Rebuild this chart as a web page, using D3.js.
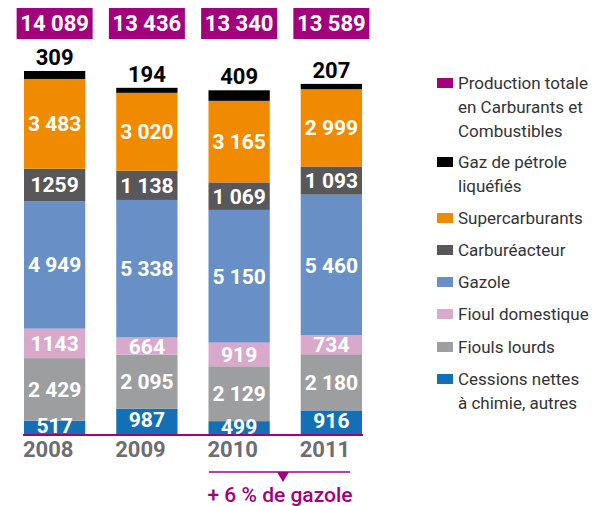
<!DOCTYPE html>
<html><head><meta charset="utf-8">
<script src="https://cdn.jsdelivr.net/npm/d3@7"></script>
<style>body{margin:0;background:#fff}svg{display:block;font-family:Roboto,"DejaVu Sans",sans-serif}</style>
</head><body><svg id="c" width="604" height="506"></svg>
<script>
const years = ["2008","2009","2010","2011"];
const totals = [14089, 13436, 13340, 13589];
const totalLabels = ["14 089","13 436","13 340","13 589"];
const cessions = [517, 987, 499, 916];
const cessionsLabels = ["517","987","499","916"];
const fioulsLourds = [2429, 2095, 2129, 2180];
const fioulsLourdsLabels = ["2 429","2 095","2 129","2 180"];
const fioulDomestique = [1143, 664, 919, 734];
const fioulDomestiqueLabels = ["1143","664","919","734"];
const gazole = [4949, 5338, 5150, 5460];
const gazoleLabels = ["4 949","5 338","5 150","5 460"];
const carbureacteur = [1259, 1138, 1069, 1093];
const carbureacteurLabels = ["1259","1 138","1 069","1 093"];
const supercarburants = [3483, 3020, 3165, 2999];
const supercarburantsLabels = ["3 483","3 020","3 165","2 999"];
const gpl = [309, 194, 409, 207];
const gplLabels = ["309","194","409","207"];
const legendNames = [["Production totale","en Carburants et","Combustibles"],["Gaz de pétrole","liquéfiés"],["Supercarburants"],["Carburéacteur"],["Gazole"],["Fioul domestique"],["Fiouls lourds"],["Cessions nettes","à chimie, autres"]];
const annotation = "+ 6 % de gazole";

const series = [
  {key:"cessions", vals:cessions, labels:cessionsLabels, color:"#1470b4"},
  {key:"fl", vals:fioulsLourds, labels:fioulsLourdsLabels, color:"#9d9ea0"},
  {key:"fd", vals:fioulDomestique, labels:fioulDomestiqueLabels, color:"#d9a9cc"},
  {key:"gaz", vals:gazole, labels:gazoleLabels, color:"#6890c6"},
  {key:"carb", vals:carbureacteur, labels:carbureacteurLabels, color:"#58585a"},
  {key:"sup", vals:supercarburants, labels:supercarburantsLabels, color:"#f08a00"},
  {key:"gpl", vals:gpl, labels:gplLabels, color:"#000000"}
];
const magenta = "#a3007e";
const legendColors = [magenta,"#000000","#f08a00","#58585a","#6890c6","#d9a9cc","#9d9ea0","#1470b4"];

const svg = d3.select("#c");
const baseY = 434;
const xb = d3.scaleBand().domain(years).range([24, 362]).paddingInner(31/92.3).paddingOuter(0);
const y = d3.scaleLinear().domain([0, d3.max(totals)]).range([baseY, 71]);

const table = years.map((yr, i) => {
  let acc = 0;
  return series.map(s => { const o = {yr, i, s, v:s.vals[i], lab:s.labels[i], y0:acc, y1:acc + s.vals[i]}; acc += s.vals[i]; return o; });
}).flat();

const g = svg.append("g");
g.selectAll("rect.seg").data(table).join("rect")
  .attr("x", d => xb(d.yr)).attr("width", xb.bandwidth())
  .attr("y", d => y(d.y1)).attr("height", d => y(d.y0) - y(d.y1))
  .attr("fill", d => d.s.color);

g.selectAll("text.seg").data(table.filter(d => d.s.key !== "gpl")).join("text")
  .attr("x", d => xb(d.yr) + xb.bandwidth()/2)
  .attr("y", d => (y(d.y0) + y(d.y1))/2 - (d.s.key === "cessions" ? 1.5 : 0))
  .attr("dy", "0.36em")
  .attr("text-anchor","middle").attr("fill","#fff")
  .attr("font-size", 21).attr("font-weight","bold")
  .text(d => d.lab);

g.selectAll("text.gpl").data(table.filter(d => d.s.key === "gpl")).join("text")
  .attr("x", d => xb(d.yr) + xb.bandwidth()/2)
  .attr("y", d => y(d.y1) - 6)
  .attr("text-anchor","middle").attr("fill","#000")
  .attr("font-size", 22).attr("font-weight","bold")
  .text(d => d.lab);

// baseline
svg.append("line").attr("x1",23).attr("x2",363).attr("y1",baseY+1).attr("y2",baseY+1)
  .attr("stroke",magenta).attr("stroke-width",2);

// year labels
svg.selectAll("text.yr").data(years).join("text")
  .attr("x", d => xb(d) - 1).attr("y", 457)
  .attr("fill","#6d6e70").attr("font-size",22).attr("font-weight","bold")
  .text(d => d);

// total boxes
const tb = svg.selectAll("g.tot").data(years).join("g")
  .attr("transform", d => `translate(${xb(d) + xb.bandwidth()/2},0)`);
tb.append("rect").attr("x",-38).attr("y",8).attr("width",76).attr("height",31).attr("fill",magenta);
tb.append("text").attr("x",0).attr("y",31).attr("text-anchor","middle").attr("fill","#fff")
  .attr("font-size",22).attr("font-weight","bold").text((d,i) => totalLabels[i]);

// annotation
svg.append("line").attr("x1",209).attr("x2",350).attr("y1",472).attr("y2",472).attr("stroke",magenta).attr("stroke-width",1.5);
svg.append("path").attr("d","M277,472 L289,472 L283,482 Z").attr("fill",magenta);
svg.append("text").attr("x",280).attr("y",502).attr("text-anchor","middle").attr("fill",magenta)
  .attr("font-size",21).attr("font-weight",500).text(annotation);

// legend
const legTops = [83, 162, 218, 250, 282, 314, 347, 379];
const lg = svg.selectAll("g.leg").data(legendNames).join("g")
  .attr("transform", (d,i) => `translate(437,${legTops[i]})`);
lg.append("rect").attr("x",0).attr("y",-5).attr("width",16).attr("height",10).attr("fill",(d,i) => legendColors[i]);
lg.each(function(lines){
  const t = d3.select(this).append("text").attr("x",21).attr("y",0).attr("fill","#333335").attr("font-size",17);
  lines.forEach((ln, j) => t.append("tspan").attr("x",21).attr("y", j*23.7).attr("dy","0.36em").text(ln));
});
</script></body></html>
